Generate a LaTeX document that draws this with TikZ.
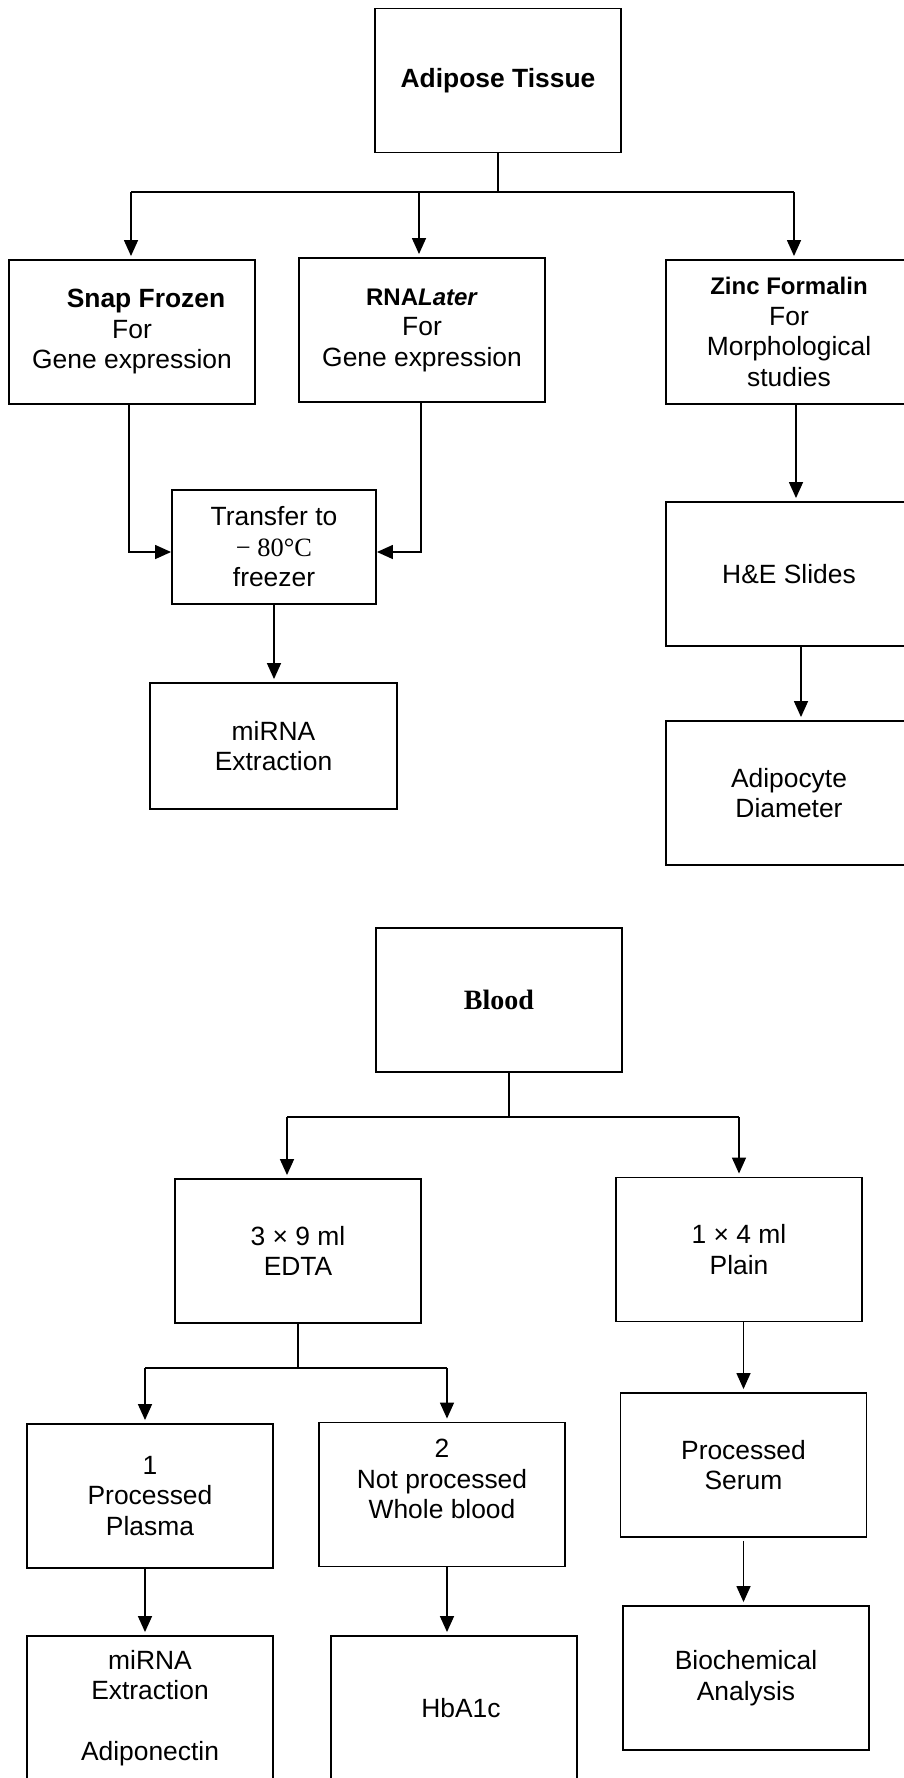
\documentclass[tikz,border=0pt]{standalone}
\usepackage{fontspec}
\setmainfont{Liberation Sans}
\newfontfamily\serifb{Liberation Serif}
\usetikzlibrary{arrows.meta}
\begin{document}
\begin{tikzpicture}[x=1pt,y=-1pt,
  box/.style={draw, line width=1.9pt, rectangle, minimum width=246pt, minimum height=144pt, inner sep=0pt, align=center, font=\fontsize{26.4}{30.5}\selectfont},
  conn/.style={line width=1.5pt},
  arr/.style={conn, -{Triangle[length=16pt,width=14pt]}, shorten >=3pt}]
\useasboundingbox (0,0) rectangle (904,1778);
\clip (0,0) rectangle (904,1778);

% Adipose tissue part
\node[box] (adip) at (498,80.5) {\textbf{Adipose Tissue}};
\node[box] (snap) at (132,332) {\hspace*{28pt}\textbf{Snap Frozen}\\For\\Gene expression};
\node[box] (rna) at (422,330) {{\fontsize{24}{30.5}\selectfont\textbf{RNA\textit{Later}}}\\For\\Gene expression};
\node[box] (zinc) at (789,332) {{\fontsize{24}{30}\selectfont\textbf{Zinc Formalin}}\\For\\Morphological\\studies};
\node[box, minimum width=204pt, minimum height=114pt] (trans) at (274,547) {Transfer to\\{\serifb − 80°C}\\freezer};
\node[box, minimum width=247pt, minimum height=126pt] (mir1) at (273.5,746) {miRNA\\Extraction};
\node[box] (he) at (789,574) {H\&E Slides};
\node[box] (adipo) at (789,793) {Adipocyte\\Diameter};

\coordinate (abar) at (0,192);
\draw[conn] (adip.south) -- (adip.south |- abar);
\draw[conn] ([xshift=-1pt]snap.north |- abar) -- ([xshift=5pt]zinc.north |- abar);
\draw[arr] ([xshift=-1pt]snap.north |- abar) -- ([xshift=-1pt]snap.north);
\draw[arr] ([xshift=-3pt]rna.north |- abar) -- ([xshift=-3pt]rna.north);
\draw[arr] ([xshift=5pt]zinc.north |- abar) -- ([xshift=5pt]zinc.north);
\draw[arr, shorten >=0pt] ([xshift=-3pt]snap.south) |- ([yshift=-5pt]trans.west);
\draw[arr, shorten >=0pt] ([xshift=-1pt]rna.south) |- ([yshift=-5pt]trans.east);
\draw[arr] (trans.south) -- (trans.south |- mir1.north);
\draw[arr] ([xshift=7pt]zinc.south) -- ([xshift=7pt]he.north);
\draw[arr] ([xshift=12pt]he.south) -- ([xshift=12pt]adipo.north);

% Blood part
\node[box] (blood) at (499,1000) {\fontsize{28}{30}\selectfont\serifb\bfseries Blood};
\node[box] (edta) at (298,1251) {3 × 9 ml\\EDTA};
\node[box] (plain) at (739,1249.5) {1 × 4 ml\\Plain};
\node[box] (plasma) at (150,1496) {1\\Processed\\Plasma};
\node[box] (whole) at (442,1494.5) {2\\Not processed\\Whole blood\\~};
\node[box] (serum) at (743.5,1465) {Processed\\Serum};
\node[box] (bio) at (746,1678) {Biochemical\\Analysis};
\node[box] (mir2) at (150,1708) {miRNA\\Extraction\\~\\Adiponectin};
\node[box] (hba) at (454,1708) {\hspace*{14pt}HbA1c};

\coordinate (bbar) at (0,1117);
\draw[conn] ([xshift=10pt]blood.south) -- ([xshift=10pt]blood.south |- bbar);
\draw[conn] ([xshift=-11pt]edta.north |- bbar) -- (plain.north |- bbar);
\draw[arr] ([xshift=-11pt]edta.north |- bbar) -- ([xshift=-11pt]edta.north);
\draw[arr] (plain.north |- bbar) -- (plain.north);
\coordinate (ebar) at (0,1368);
\draw[conn] (edta.south) -- (edta.south |- ebar);
\draw[conn] ([xshift=-5pt]plasma.north |- ebar) -- ([xshift=5pt]whole.north |- ebar);
\draw[arr] ([xshift=-5pt]plasma.north |- ebar) -- ([xshift=-5pt]plasma.north);
\draw[arr] ([xshift=5pt]whole.north |- ebar) -- ([xshift=5pt]whole.north);
\draw[arr] (serum.north |- plain.south) -- (serum.north);
\draw[arr] ([yshift=-3pt]serum.south) -- (serum.south |- bio.north);
\draw[arr] ([xshift=-5pt]plasma.south) -- ([xshift=-5pt]mir2.north);
\draw[arr] ([xshift=5pt]whole.south) -- ([xshift=5pt]whole.south |- hba.north);
\end{tikzpicture}
\end{document}
